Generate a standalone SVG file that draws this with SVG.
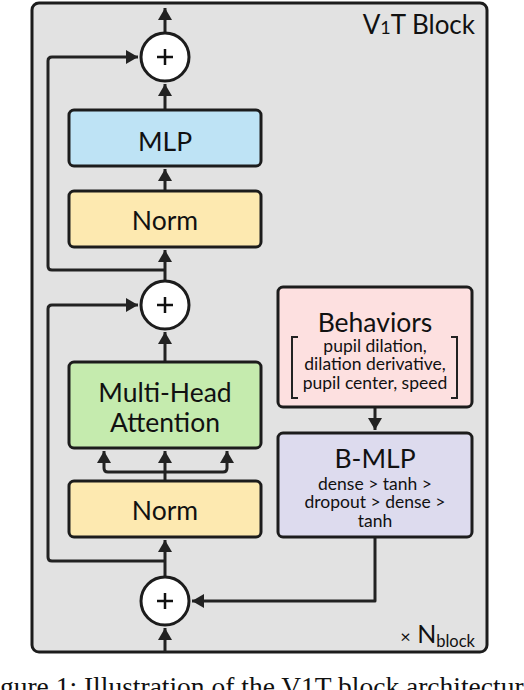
<svg xmlns="http://www.w3.org/2000/svg" width="524" height="690" viewBox="0 0 524 690">
<style>
.box{stroke:#1c1c1c;stroke-width:3}
.c{fill:none;stroke:#222;stroke-width:3;stroke-linejoin:round}
.t{font-family:Lato,"Liberation Sans",sans-serif;fill:#111;text-anchor:middle}
.big{font-size:26.5px}
.sm{font-size:17.5px}
</style>
<defs>
<marker id="ah" markerUnits="userSpaceOnUse" markerWidth="14" markerHeight="14" viewBox="0 0 12 14" refX="12" refY="7" orient="auto">
<path d="M0,0 L12,7 L0,14 Z" fill="#222"/>
</marker>
</defs>
<rect width="524" height="690" fill="#fff"/>
<g id="block">
<rect x="32" y="3" width="455" height="649" rx="7" fill="#e2e2e2" stroke="#1c1c1c" stroke-width="3"/>
<text class="t" x="475" y="34" style="text-anchor:end;font-size:26px">V<tspan font-size="18px">1</tspan>T Block</text>
<text class="t" x="475" y="643" style="text-anchor:end;font-size:25px"><tspan font-size="18px">×</tspan> N<tspan font-size="16.5px" dy="4">block</tspan></text>
</g>
<g id="connectors">
<path class="c" d="M165,33 V8" marker-end="url(#ah)"/>
<path class="c" d="M165,110 V84" marker-end="url(#ah)"/>
<path class="c" d="M165,191 V169" marker-end="url(#ah)"/>
<path class="c" d="M165,281 V250" marker-end="url(#ah)"/>
<path class="c" d="M165,270 H52 Q48,270 48,266 V61 Q48,57 52,57 H138" marker-end="url(#ah)"/>
<path class="c" d="M165,362 V332" marker-end="url(#ah)"/>
<path class="c" d="M165,561 H52 Q48,561 48,557 V309 Q48,305 52,305 H138" marker-end="url(#ah)"/>
<path class="c" d="M165,481 V451" marker-end="url(#ah)"/>
<path class="c" d="M165,472 H108 Q104,472 104,468 V451" marker-end="url(#ah)"/>
<path class="c" d="M165,472 H223 Q227,472 227,468 V451" marker-end="url(#ah)"/>
<path class="c" d="M165,577 V540" marker-end="url(#ah)"/>
<path class="c" d="M165,652 V628" marker-end="url(#ah)"/>
<path class="c" d="M375,407 V430" marker-end="url(#ah)"/>
<path class="c" d="M375,537 V601 H192" marker-end="url(#ah)"/>
</g>
<g id="add-top">
<circle cx="165" cy="57" r="24" fill="#fff" class="box"/>
<path d="M165,49 V65 M157,57 H173" stroke="#111" stroke-width="2.5"/>
</g>
<g id="add-mid">
<circle cx="165" cy="305" r="24" fill="#fff" class="box"/>
<path d="M165,297 V313 M157,305 H173" stroke="#111" stroke-width="2.5"/>
</g>
<g id="add-bottom">
<circle cx="165" cy="601" r="24" fill="#fff" class="box"/>
<path d="M165,593 V609 M157,601 H173" stroke="#111" stroke-width="2.5"/>
</g>
<g id="mlp">
<rect x="69" y="110" width="192" height="56" rx="5" fill="#bee3f5" class="box"/>
<text class="t big" x="165" y="151">MLP</text>
</g>
<g id="norm-top">
<rect x="69" y="191" width="192" height="56" rx="5" fill="#fde9b0" class="box"/>
<text class="t big" x="165" y="230">Norm</text>
</g>
<g id="mha">
<rect x="69" y="362" width="192" height="86" rx="5" fill="#c5ebae" class="box"/>
<text class="t big" x="165" y="402">Multi-Head</text>
<text class="t big" x="165" y="432">Attention</text>
</g>
<g id="norm-bottom">
<rect x="69" y="481" width="192" height="56" rx="5" fill="#fde9b0" class="box"/>
<text class="t big" x="165" y="520">Norm</text>
</g>
<g id="behaviors">
<rect x="278" y="287" width="194" height="120" rx="5" fill="#fde0e0" class="box"/>
<text class="t big" x="375" y="332">Behaviors</text>
<text class="t sm" x="375" y="352">pupil dilation,</text>
<text class="t sm" x="375" y="370">dilation derivative,</text>
<text class="t sm" x="375" y="389">pupil center, speed</text>
<path d="M298,337 H292 V398 H298 M451,337 H457 V398 H451" fill="none" stroke="#222" stroke-width="2"/>
</g>
<g id="b-mlp">
<rect x="278" y="433" width="194" height="104" rx="5" fill="#dddbee" class="box"/>
<text class="t big" x="375" y="468">B-MLP</text>
<text class="t sm" x="375" y="490">dense &gt; tanh &gt;</text>
<text class="t sm" x="375" y="508">dropout &gt; dense &gt;</text>
<text class="t sm" x="375" y="527">tanh</text>
</g>
<text x="-23" y="696" font-family="'Liberation Serif',serif" font-size="27.5px" fill="#111">Figure 1: Illustration of the V1T block architecture.</text>
</svg>
